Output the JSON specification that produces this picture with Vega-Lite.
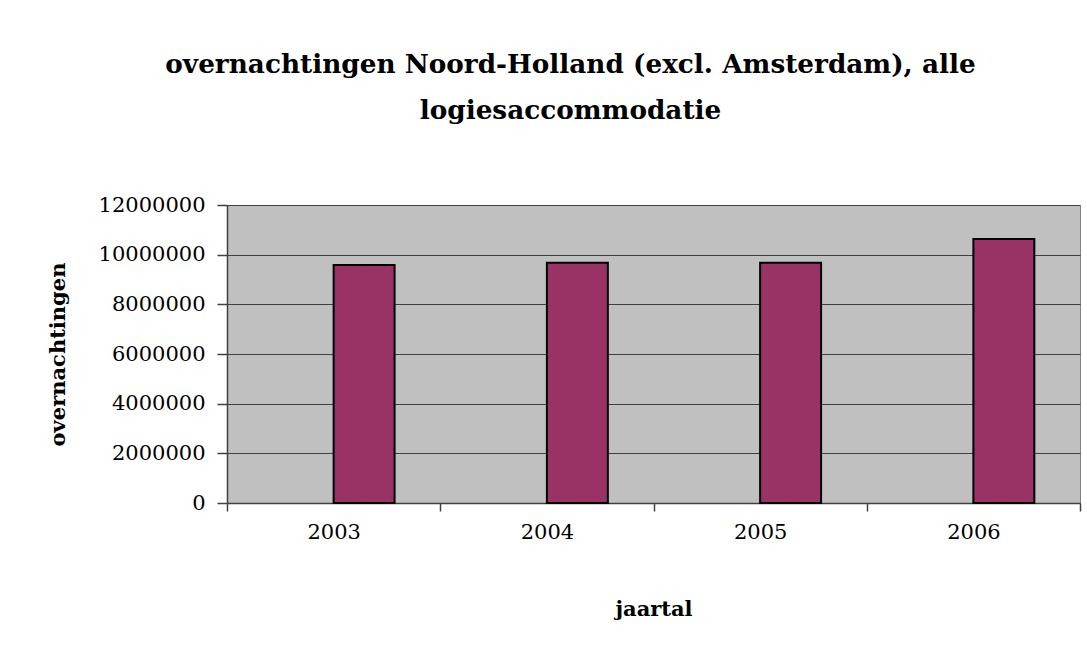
{
  "$schema": "https://vega.github.io/schema/vega-lite/v6.json",
  "autosize": "none",
  "width": 853,
  "height": 298,
  "padding": {"left": 227, "top": 205, "right": 7, "bottom": 153},
  "background": "white",
  "title": {
    "text": ["overnachtingen Noord-Holland (excl. Amsterdam), alle", "logiesaccommodatie"],
    "font": "DejaVu Serif",
    "fontSize": 26.3,
    "fontWeight": "bold",
    "color": "black",
    "lineHeight": 46,
    "anchor": "middle",
    "frame": "group",
    "dx": -83,
    "offset": 70
  },
  "data": {
    "values": [
      {"jaartal": "2003", "reeks": "overnachtingen", "overnachtingen": 9580000},
      {"jaartal": "2004", "reeks": "overnachtingen", "overnachtingen": 9670000},
      {"jaartal": "2005", "reeks": "overnachtingen", "overnachtingen": 9670000},
      {"jaartal": "2006", "reeks": "overnachtingen", "overnachtingen": 10630000}
    ]
  },
  "mark": {"type": "bar", "color": "#993366", "stroke": "black", "strokeWidth": 2},
  "encoding": {
    "x": {
      "field": "jaartal",
      "type": "nominal",
      "title": "jaartal",
      "scale": {"paddingInner": 0, "paddingOuter": 0},
      "axis": {
        "labelAngle": 0,
        "tickBand": "extent",
        "tickSize": 8,
        "labelPadding": 10,
        "titleY": 106,
        "titleBaseline": "middle"
      }
    },
    "xOffset": {
      "field": "reeks",
      "type": "nominal",
      "scale": {"domain": ["jaartal", "overnachtingen"], "paddingInner": 0, "paddingOuter": 0.749}
    },
    "y": {
      "field": "overnachtingen",
      "type": "quantitative",
      "title": "overnachtingen",
      "scale": {"domain": [0, 12000000], "nice": false},
      "axis": {
        "values": [0, 2000000, 4000000, 6000000, 8000000, 10000000, 12000000],
        "format": "d",
        "tickSize": 10,
        "labelPadding": 12,
        "grid": true,
        "gridColor": "#404040",
        "gridWidth": 1,
        "gridOpacity": 1,
        "titleX": -169,
        "titleY": 149,
        "titleBaseline": "middle",
        "titleAngle": -90,
        "titleAlign": "center"
      }
    }
  },
  "config": {
    "view": {"fill": "#C0C0C0", "stroke": "#808080", "strokeWidth": 1},
    "axis": {
      "labelFont": "DejaVu Serif",
      "labelFontSize": 21,
      "labelColor": "black",
      "titleFont": "DejaVu Serif",
      "titleFontSize": 21,
      "titleFontWeight": "bold",
      "titleColor": "black",
      "domainColor": "#404040",
      "domainWidth": 1.5,
      "tickColor": "#404040",
      "tickWidth": 1.5
    }
  }
}
